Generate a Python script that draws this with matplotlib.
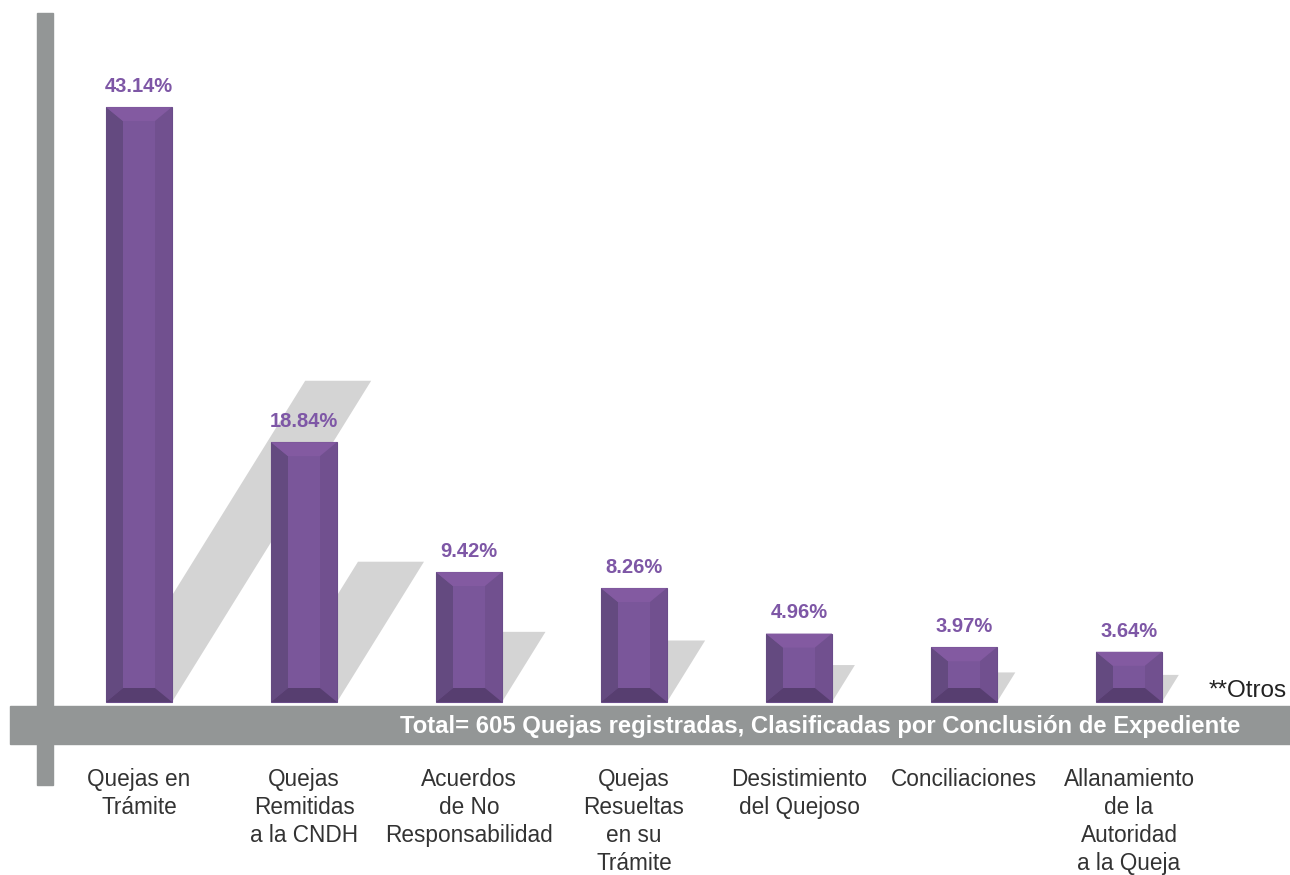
import matplotlib.pyplot as plt
from matplotlib.patches import Polygon, Rectangle

plt.rcParams['font.family'] = ['Liberation Sans', 'DejaVu Sans']

# Datos
categorias = ["Quejas en\nTrámite", "Quejas\nRemitidas\na la CNDH", "Acuerdos\nde No\nResponsabilidad",
              "Quejas\nResueltas\nen su\nTrámite", "Desistimiento\ndel Quejoso", "Conciliaciones",
              "Allanamiento\nde la\nAutoridad\na la Queja"]
porcentajes = [43.14, 18.84, 9.42, 8.26, 4.96, 3.97, 3.64]
etiquetas = ["43.14%", "18.84%", "9.42%", "8.26%", "4.96%", "3.97%", "3.64%"]
titulo_total = "Total= 605 Quejas registradas, Clasificadas por Conclusión de Expediente"
nota = "**Otros"

W, H = 1290, 875
fig = plt.figure(figsize=(W / 100, H / 100), dpi=100)

# capa de decoracion en pixeles
ax0 = fig.add_axes([0, 0, 1, 1])
ax0.set_xlim(0, W)
ax0.set_ylim(H, 0)
ax0.axis("off")
gris = "#939696"
ax0.add_patch(Rectangle((37, 13), 16, 772, color=gris, zorder=1))
ax0.add_patch(Rectangle((10, 706), 1280, 38, color=gris, zorder=2))
ax0.text(820, 727, titulo_total, color="white", fontsize=17.2, fontweight="bold",
         ha="center", va="center", zorder=3)
ax0.text(1287, 691, nota, color="#222222", fontsize=17.5, ha="right", va="center", zorder=3)

# ejes de datos
px_cat = 165
px_pct = 13.79
x0_px, base_px = 139, 702
ax = fig.add_axes([0, 0, 1, 1], facecolor="none")
ax.set_xlim(-x0_px / px_cat, (W - x0_px) / px_cat)
ax.set_ylim(-(H - base_px) / px_pct, base_px / px_pct)
ax.axis("off")

ancho = 66 / px_cat
bx = 17 / px_cat   # bisel horizontal
by = 14 / px_pct   # bisel vertical
sombra_alto = 0.54
sombra_pend = 0.62 * px_pct / px_cat

for i, v in enumerate(porcentajes):
    x1, x2 = i - ancho / 2, i + ancho / 2
    # sombra
    sh = v * sombra_alto
    dx = sh * sombra_pend
    ax.add_patch(Polygon([(x1, 0), (x2, 0), (x2 + dx, sh), (x1 + dx, sh)],
                         closed=True, color="#d4d4d4", lw=0, zorder=1))
    # barra con bisel
    ax.bar(i, v, width=ancho, color="#7a569a", edgecolor="#6a4c8a", lw=0.8, zorder=2)
    caras = [
        ([(x1, 0), (x1, v), (x1 + bx, v - by), (x1 + bx, by)], "#644a80"),
        ([(x1, v), (x2, v), (x2 - bx, v - by), (x1 + bx, v - by)], "#835aa1"),
        ([(x2, v), (x2, 0), (x2 - bx, by), (x2 - bx, v - by)], "#71508f"),
        ([(x1, 0), (x2, 0), (x2 - bx, by), (x1 + bx, by)], "#573e70"),
    ]
    for pts, c in caras:
        ax.add_patch(Polygon(pts, closed=True, color=c, lw=0, zorder=3))
    ax.annotate(etiquetas[i], (i, v), xytext=(0, 8), textcoords="offset points",
                ha="center", va="bottom", color="#7e57a6", fontsize=14.5,
                fontweight="bold", zorder=4)
    ax.text(i, -(768 - base_px) / px_pct, categorias[i], ha="center", va="top",
            fontsize=16.3, color="#333333", linespacing=1.27, zorder=4)

fig.savefig("out.png", dpi=100)
